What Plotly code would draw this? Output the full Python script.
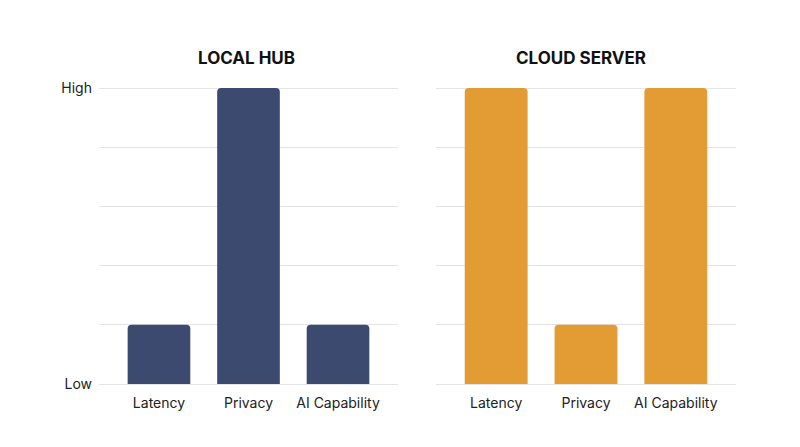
import plotly.graph_objects as go

categories = ["Latency", "Privacy", "AI Capability"]
local_hub = [1, 5, 1]
cloud_server = [5, 1, 5]
panel_titles = ["LOCAL HUB", "CLOUD SERVER"]
y_tickvals = [0, 1, 2, 3, 4, 5]
y_ticktext = ["Low", "", "", "", "", "High"]

NAVY = "#3c4a70"
ORANGE = "#e39b34"
FONT = "Inter, Roboto, 'Open Sans', sans-serif"

fig = go.Figure()
fig.add_trace(go.Bar(x=categories, y=local_hub, marker=dict(color=NAVY, line=dict(width=0)),
                     width=0.7, xaxis="x", yaxis="y", showlegend=False, hoverinfo="x+y"))
fig.add_trace(go.Bar(x=categories, y=cloud_server, marker=dict(color=ORANGE, line=dict(width=0)),
                     width=0.7, xaxis="x2", yaxis="y2", showlegend=False, hoverinfo="x+y"))

OFF = 8  # page body margin
W = 800 - OFF
H = 447 - OFF


def px_x(v):
    return (v - OFF) / W


def px_y(v):
    return 1 - (v - OFF) / H


pad = 1.5 * 5 / 296
ydom = [px_y(385.5), px_y(86.5)]
xr = [-0.67, 2.67]

common_x = dict(range=xr, showgrid=False, zeroline=False, showline=False, ticks="", automargin=False,
                ticklabelstandoff=7,
                tickfont=dict(size=14, color="#222222", family=FONT), fixedrange=True)
common_y = dict(range=[-pad, 5 + pad], tickvals=y_tickvals, showgrid=True, gridcolor="#e4e4e4", gridwidth=1,
                zeroline=False, showline=False, ticks="", fixedrange=True, automargin=False,
                ticklabelstandoff=6,
                tickfont=dict(size=14, color="#222222", family=FONT))

fig.update_layout(
    width=W, height=H,
    margin=dict(l=0, r=0, t=0, b=0),
    paper_bgcolor="white", plot_bgcolor="white",
    barcornerradius=4,
    font=dict(family=FONT),
    xaxis=dict(domain=[px_x(99), px_x(398)], anchor="y", **common_x),
    yaxis=dict(domain=ydom, anchor="x", ticktext=y_ticktext, **common_y),
    xaxis2=dict(domain=[px_x(436), px_x(736)], anchor="y2", **common_x),
    yaxis2=dict(domain=ydom, anchor="x2", showticklabels=False, **common_y),
    annotations=[
        dict(text="<b>%s</b>" % panel_titles[0], x=px_x(246), y=px_y(58), xref="paper", yref="paper",
             showarrow=False, font=dict(size=17, color="#111111", family=FONT), xanchor="center", yanchor="middle"),
        dict(text="<b>%s</b>" % panel_titles[1], x=px_x(581), y=px_y(58), xref="paper", yref="paper",
             showarrow=False, font=dict(size=17, color="#111111", family=FONT), xanchor="center", yanchor="middle"),
    ],
)

fig.write_html("out.html")
